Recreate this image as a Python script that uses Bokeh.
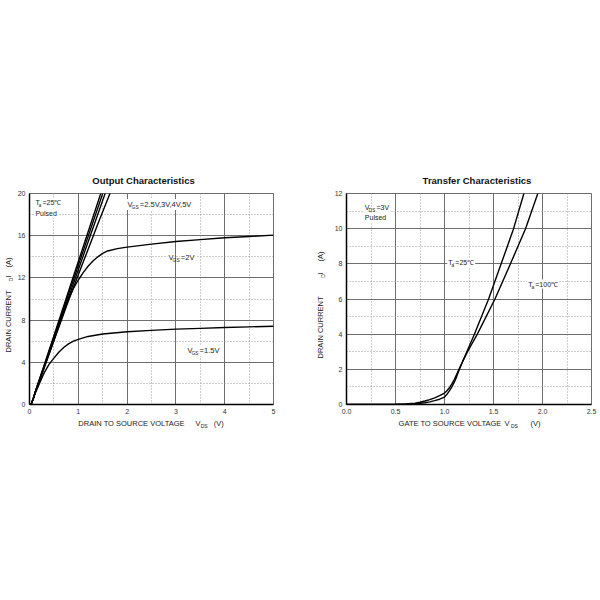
import math
from bokeh.plotting import figure
from bokeh.models import Label, FixedTicker, Range1d
from bokeh.layouts import row, column
from bokeh.embed import file_html
from bokeh.resources import INLINE

FONT = "Liberation Sans"

# ---------------- Output characteristics (left) ----------------
out_x_ticks = [0, 1, 2, 3, 4, 5]
out_x_labels = ["0", "1", "2", "3", "4", "5"]
out_x_minor = [0.5, 1.5, 2.5, 3.5, 4.5]
out_y_ticks = [0, 4, 8, 12, 16, 20]
out_y_labels = ["0", "4", "8", "12", "16", "20"]
out_y_minor = [2, 6, 10, 14, 18]

vgs5_v = [0.0, 0.04, 0.08, 0.12, 0.3, 0.5, 0.8, 1.0, 1.2, 1.5]
vgs5_i = [0.0, 0.1, 0.6, 1.2, 3.73, 6.53, 10.74, 13.55, 16.35, 20.56]
vgs4_v = [0.0, 0.04, 0.08, 0.12, 0.3, 0.5, 0.8, 1.0, 1.2, 1.55]
vgs4_i = [0.0, 0.1, 0.6, 1.2, 3.65, 6.38, 10.46, 13.19, 15.91, 20.68]
vgs3_v = [0.0, 0.04, 0.08, 0.12, 0.3, 0.5, 0.8, 1.0, 1.2, 1.6]
vgs3_i = [0.0, 0.1, 0.6, 1.2, 3.57, 6.2, 10.14, 12.77, 15.4, 20.66]
vgs25_v = [0.0, 0.04, 0.08, 0.12, 0.3, 0.5, 0.8, 1.0, 1.2, 1.4, 1.7]
vgs25_i = [0.0, 0.1, 0.6, 1.2, 3.5, 6.05, 9.85, 12.3, 14.7, 17.1, 20.6]
vgs2_v = [0.0, 0.04, 0.08, 0.12, 0.3, 0.5, 0.7, 0.8, 0.9, 1.0, 1.1, 1.2, 1.3, 1.4, 1.5,
          1.6, 1.8, 2.0, 2.5, 3.0, 3.5, 4.0, 4.5, 5.0]
vgs2_i = [0.0, 0.1, 0.6, 1.2, 3.45, 6.1, 8.75, 10.0, 11.0, 11.8, 12.5, 13.1, 13.6, 14.0,
          14.32, 14.55, 14.78, 14.92, 15.2, 15.45, 15.63, 15.8, 15.93, 16.05]
vgs15_v = [0.0, 0.04, 0.08, 0.12, 0.15, 0.2, 0.3, 0.4, 0.5, 0.6, 0.7, 0.8, 0.9, 1.0, 1.2,
           1.5, 2.0, 2.5, 3.0, 3.5, 4.0, 4.5, 5.0]
vgs15_i = [0.0, 0.1, 0.6, 1.1, 1.4, 1.95, 3.0, 3.8, 4.4, 4.95, 5.4, 5.75, 6.0, 6.18, 6.45,
           6.68, 6.9, 7.03, 7.14, 7.22, 7.3, 7.36, 7.42]

# ---------------- Transfer characteristics (right) ----------------
tr_x_ticks = [0.0, 0.5, 1.0, 1.5, 2.0, 2.5]
tr_x_labels = ["0.0", "0.5", "1.0", "1.5", "2.0", "2.5"]
tr_x_minor = [0.25, 0.75, 1.25, 1.75, 2.25]
tr_y_ticks = [0, 2, 4, 6, 8, 10, 12]
tr_y_labels = ["0", "2", "4", "6", "8", "10", "12"]
tr_y_minor = [1, 3, 5, 7, 9, 11]

t25_v = [0.0, 0.5, 0.6, 0.7, 0.8, 0.85, 0.9, 0.95, 1.0, 1.025, 1.05, 1.075, 1.1, 1.125,
         1.148, 1.19, 1.228, 1.305, 1.45, 1.578, 1.705, 1.81, 1.85]
t25_i = [0.0, 0.0, 0.01, 0.04, 0.1, 0.15, 0.22, 0.3, 0.42, 0.58, 0.77, 1.0, 1.27, 1.6,
         1.95, 2.5, 3.0, 4.0, 6.0, 8.0, 10.0, 12.0, 12.8]
t100_v = [0.0, 0.4, 0.5, 0.6, 0.7, 0.75, 0.8, 0.85, 0.9, 0.95, 1.0, 1.025, 1.05, 1.075,
          1.1, 1.135, 1.185, 1.235, 1.335, 1.515, 1.673, 1.827, 1.952, 1.98]
t100_i = [0.0, 0.0, 0.01, 0.03, 0.08, 0.13, 0.2, 0.28, 0.38, 0.5, 0.65, 0.78, 0.95, 1.17,
          1.42, 1.85, 2.45, 3.0, 4.0, 6.0, 8.0, 10.0, 12.0, 12.6]

W = {'V': .667, 'T': .611, 'G': .778, 'S': .667, 'D': .722, 'a': .556, '=': .584,
     '.': .278, ',': .278, '℃': 1.0, ' ': .278, 'I': .278}


def tw(s, size):
    return sum(W.get(c, .556) for c in s) * size


def lab(p, x, y, text, size=7.0, xo=0.0, yo=0.0, bg=False, align="left", angle=0.0):
    kw = dict(x=x, y=y, text=text, x_offset=xo, y_offset=yo, angle=angle,
              text_font=FONT, text_font_size=f"{size}px", text_align=align,
              text_baseline="middle", text_color="#222222")
    if bg:
        kw.update(background_fill_color="white", padding=1)
    p.add_layout(Label(**kw))


def comp(p, x, y, parts, size=7.0, sub=5.0, bg=True):
    off = 0.0
    for text, is_sub in parts:
        fs = sub if is_sub else size
        lab(p, x, y, text, size=fs, xo=off, yo=-2.5 if is_sub else 0.0,
            bg=bg and not is_sub)
        off += tw(text, fs)


def text_fig(w, h, y_range=None, top=0, bottom=0):
    f = figure(width=w, height=h, x_range=Range1d(0, w),
               y_range=y_range if y_range is not None else Range1d(0, h),
               x_axis_type=None, y_axis_type=None, output_backend="svg",
               toolbar_location=None, min_border=0, min_border_top=top,
               min_border_bottom=bottom)
    f.outline_line_color = None
    return f


def make_fig(width, mbl, mbr, xr, yr, xt, xl, xm, yt, yl, ym, title, toff):
    p = figure(width=width, height=418, x_range=Range1d(*xr), y_range=Range1d(*yr),
               output_backend="svg", toolbar_location=None, title=title,
               min_border_left=mbl, min_border_right=mbr, min_border_top=193,
               min_border_bottom=14)
    p.title.text_font = FONT
    p.title.text_font_size = "9.5px"
    p.title.text_font_style = "bold"
    p.title.align = "left"
    p.title.offset = toff
    p.title.standoff = 16
    p.title.text_color = "#111111"
    p.xaxis.ticker = FixedTicker(ticks=xt, minor_ticks=xm)
    p.yaxis.ticker = FixedTicker(ticks=yt, minor_ticks=ym)
    p.xaxis.major_label_overrides = dict(zip(xt, xl))
    p.yaxis.major_label_overrides = dict(zip(yt, yl))
    for ax in (p.xaxis, p.yaxis):
        ax.major_tick_out = 0
        ax.major_tick_in = 0
        ax.minor_tick_out = 0
        ax.minor_tick_in = 0
        ax.axis_line_color = "black"
        ax.axis_line_width = 1.5
        ax.major_label_text_font = FONT
        ax.major_label_text_font_size = "7px"
        ax.major_label_text_color = "#333333"
        ax.major_label_standoff = 4
    for g in (p.xgrid, p.ygrid):
        g.grid_line_color = "#6e6e6e"
        g.grid_line_width = 1
        g.minor_grid_line_color = "#9a9a9a"
        g.minor_grid_line_dash = "1 2"
        g.minor_grid_line_width = 1
    p.outline_line_color = "#6e6e6e"
    return p


# ---------- left figure ----------
p1 = make_fig(287, 16, 27, (0, 5), (0, 20), out_x_ticks, out_x_labels, out_x_minor,
              out_y_ticks, out_y_labels, out_y_minor, "Output Characteristics", 62.8)

for xs, ys in [(vgs5_v, vgs5_i), (vgs4_v, vgs4_i), (vgs3_v, vgs3_i), (vgs25_v, vgs25_i),
               (vgs2_v, vgs2_i), (vgs15_v, vgs15_i)]:
    p1.line(xs, ys, line_color="black", line_width=1.4)

comp(p1, 0.10, 19.17, [("T", False), ("a", True), ("=25℃", False)])
lab(p1, 0.10, 18.1, "Pulsed", bg=True)
comp(p1, 1.99, 18.95, [("V", False), ("GS", True), ("=2.5V,3V,4V,5V", False)], size=7.5)
comp(p1, 2.83, 13.89, [("V", False), ("GS", True), ("=2V", False)], size=7.5)
comp(p1, 3.215, 5.15, [("V", False), ("GS", True), ("=1.5V", False)], size=7.5)

# ---------- right figure ----------
p2 = make_fig(274, 20, 9, (0, 2.5), (0, 12), tr_x_ticks, tr_x_labels, tr_x_minor,
              tr_y_ticks, tr_y_labels, tr_y_minor, "Transfer Characteristics", 76.1)

p2.line(t25_v, t25_i, line_color="black", line_width=1.4)
p2.line(t100_v, t100_i, line_color="black", line_width=1.4)

comp(p2, 0.177, 11.22, [("V", False), ("DS", True), ("=3V", False)])
lab(p2, 0.177, 10.65, "Pulsed", bg=True)
comp(p2, 1.028, 8.08, [("T", False), ("a", True), ("=25℃", False)])
comp(p2, 1.844, 6.85, [("T", False), ("a", True), ("=100℃", False)])

# ---------- axis titles (text panels sharing the charts' current scales) ----------
R = math.pi / 2
ylab1 = text_fig(13, 418, y_range=p1.y_range, top=193, bottom=14)
lab(ylab1, 8.3, 7.87, "DRAIN CURRENT", size=7.5, align="center", angle=R)
lab(ylab1, 8.3, 12.13, "I", size=7.5, align="center", angle=R)
lab(ylab1, 10.2, 11.85, "D", size=5, align="center", angle=R)
lab(ylab1, 8.3, 13.46, "(A)", size=7.5, align="center", angle=R)

ylab2 = text_fig(26, 418, y_range=p2.y_range, top=193, bottom=14)
lab(ylab2, 20, 4.38, "DRAIN CURRENT", size=7.5, align="center", angle=R)
lab(ylab2, 20, 7.45, "I", size=7.5, align="center", angle=R)
lab(ylab2, 22.5, 7.31, "D", size=5, align="center", angle=R)
lab(ylab2, 20, 8.42, "(A)", size=7.5, align="center", angle=R)

xlab1 = text_fig(300, 30)
lab(xlab1, 131, 25, "DRAIN TO SOURCE VOLTAGE", size=7.5, align="center")
lab(xlab1, 195, 25, "V", size=7.5)
lab(xlab1, 200.2, 22.5, "DS", size=5)
lab(xlab1, 213.3, 25, "(V)", size=7.5)

xlab2 = text_fig(300, 30)
lab(xlab2, 149.5, 25, "GATE TO SOURCE VOLTAGE", size=7.5, align="center")
lab(xlab2, 204, 25, "V", size=7.5)
lab(xlab2, 210.5, 22.5, "DS", size=5)
lab(xlab2, 230, 25, "(V)", size=7.5)

layout = column(row(ylab1, p1, ylab2, p2), row(xlab1, xlab2))
open("out.html", "w").write(file_html(layout, INLINE))
